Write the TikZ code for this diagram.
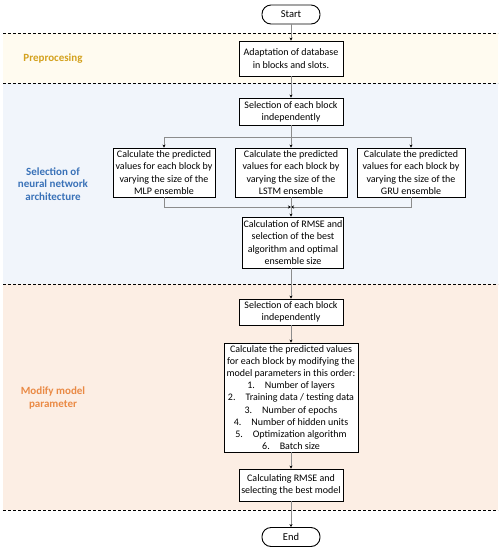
\documentclass[tikz,border=0pt]{standalone}
\usepackage{fontspec}
\setmainfont{Carlito}
\usetikzlibrary{arrows.meta,calc}
\definecolor{preBg}{HTML}{FFFBF0}
\definecolor{selBg}{HTML}{F1F5FB}
\definecolor{modBg}{HTML}{FCEEE4}
\definecolor{preTx}{HTML}{D4A21F}
\definecolor{selTx}{HTML}{3A72B8}
\definecolor{modTx}{HTML}{EA8A45}
\definecolor{lineGray}{HTML}{8C8C8C}
\tikzset{
  box/.style={draw=black, line width=0.9pt, fill=white, align=center, font=\fontsize{10}{12.2}\selectfont, inner sep=1pt},
  term/.style={draw=black, line width=0.9pt, fill=white, rounded corners=9pt, font=\fontsize{10.5}{12}\selectfont, minimum width=58pt, minimum height=19pt},
  conn/.style={draw=lineGray, line width=0.8pt},
  arr/.style={conn, -{Stealth[length=3pt,width=3pt,color=black]}},
  sep/.style={draw=black, line width=0.9pt, dash pattern=on 3pt off 2pt},
  lab/.style={align=center, font=\bfseries\fontsize{11}{12.8}\selectfont},
}
\begin{document}
\begin{tikzpicture}[x=1pt,y=-1pt]
\useasboundingbox (0,0) rectangle (501,550);
% backgrounds
\fill[preBg] (3,33) rectangle (498,83);
\fill[selBg] (3,83) rectangle (498,284);
\fill[modBg] (3,284) rectangle (498,510);
% separators
\draw[sep] (3,33) -- (498,33);
\draw[sep] (3,83) -- (498,83);
\draw[sep] (3,284) -- (498,284);
\draw[sep] (3,510) -- (498,510);
% labels
\node[lab, text=preTx] (lpre) at (53,59) {Preprocesing};
\node[lab, text=selTx] (lsel) at (53,184) {Selection of\\neural network\\architecture};
\node[lab, text=modTx] (lmod) at (53,398) {Modify model\\parameter};
% nodes
\node[term] (start) at (291,14.5) {Start};
\node[box, minimum width=104pt, minimum height=35pt] (adapt) at (291,58.5) {Adaptation of database\\in blocks and slots.};
\node[box, minimum width=104pt, minimum height=27pt] (sel1) at (291,111.5) {Selection of each block\\independently};
\node[box, minimum width=102pt, minimum height=49pt] (b1) at (164,172.5) {Calculate the predicted\\values for each block by\\varying the size of the\\MLP ensemble};
\node[box, minimum width=112pt, minimum height=49pt] (b2) at (291,172.5) {Calculate the predicted\\values for each block by\\varying the size of the\\LSTM ensemble};
\node[box, minimum width=108pt, minimum height=49pt] (b3) at (411,172.5) {Calculate the predicted\\values for each block by\\varying the size of the\\GRU ensemble};
\node[box, minimum width=100pt, minimum height=51pt] (rmse1) at (293,242.5) {Calculation of RMSE and\\selection of the best\\algorithm and optimal\\ensemble size};
\node[box, minimum width=104pt, minimum height=26pt] (sel2) at (291,312) {Selection of each block\\independently};
\node[box, minimum width=134pt, minimum height=109pt] (calc) at (291,397.5) {Calculate the predicted values\\for each block by modifying the\\model parameters in this order:\\1.\quad Number of layers\\2.\quad Training data / testing data\\3.\quad Number of epochs\\4.\quad Number of hidden units\\5.\quad Optimization algorithm\\6.\quad Batch size};
\node[box, minimum width=104pt, minimum height=32pt] (rmse2) at (291,485) {Calculating RMSE and\\selecting the best model};
\node[term] (end) at (291,537) {End};
% connectors
\coordinate (split) at (291,137);
\coordinate (merge) at (291,207);
\draw[arr] (start) -- (adapt);
\draw[arr] (adapt) -- (sel1);
\draw[conn] (sel1.south) -- (split);
\draw[arr] (split) -| (b1.north);
\draw[arr] (split) -- (b2.north);
\draw[arr] (split) -| (b3.north);
\draw[arr] (b1.south) |- (merge);
\draw[arr] (b3.south) |- (merge);
\draw[arr] (b2.south) -- (b2.south |- rmse1.north);
\draw[arr] (sel2.north |- rmse1.south) -- (sel2.north);
\draw[arr] (sel2) -- (calc);
\draw[arr] (calc) -- (rmse2);
\draw[arr] (rmse2) -- (end);
\end{tikzpicture}
\end{document}
